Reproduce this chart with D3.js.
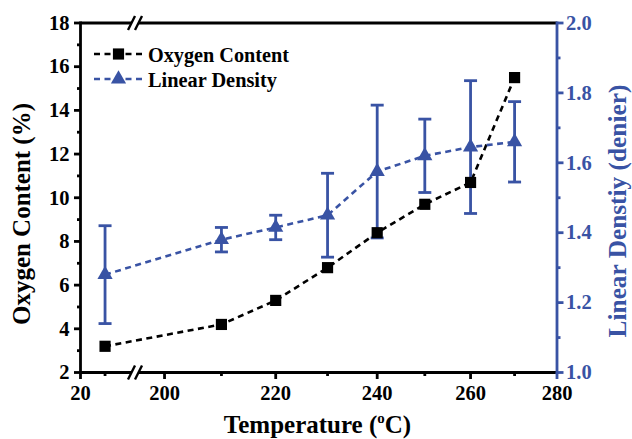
<!DOCTYPE html>
<html><head><meta charset="utf-8">
<script src="https://cdn.jsdelivr.net/npm/d3@7"></script>
<style>html,body{margin:0;padding:0;background:#fff;}svg{display:block;}</style>
</head><body>
<script>
const temps = [30, 210, 220, 230, 240, 250, 260, 270];
const oxygen = [3.2, 4.2, 5.3, 6.8, 8.4, 9.7, 10.7, 15.5];
const density = [1.28, 1.38, 1.415, 1.45, 1.575, 1.62, 1.645, 1.66];
const densityErr = [0.14, 0.035, 0.035, 0.12, 0.19, 0.105, 0.19, 0.115];
const xMajorTicks = [20, 200, 220, 240, 260, 280];
const xMinorTicks = [30, 210, 230, 250, 270];
const yLeftMajor = [2, 4, 6, 8, 10, 12, 14, 16, 18];
const yLeftMinor = [3, 5, 7, 9, 11, 13, 15, 17];
const yRightMajor = [1.0, 1.2, 1.4, 1.6, 1.8, 2.0];
const yRightMinor = [1.1, 1.3, 1.5, 1.7, 1.9];
const seriesNames = ["Oxygen Content", "Linear Density"];

const W = 632, H = 439;
const L = 80.5, R = 557, T = 23, B = 372.5;
const BLUE = "#3953a4";
const FONT = "'Liberation Serif','Times New Roman',serif";

const svg = d3.select("body").append("svg").attr("width", W).attr("height", H);

const xSeg1 = d3.scaleLinear().domain([20, 42]).range([L, 134.5]);
const xSeg2 = d3.scaleLog().domain([195, 280]).range([135, R]);
const x = t => t < 100 ? xSeg1(t) : xSeg2(t);
const yL = d3.scaleLinear().domain([2, 18]).range([B, T]);
const yR = d3.scaleLinear().domain([1.0, 2.0]).range([B, T]);

const g = svg.append("g");
const SW = 2.8;

function fit(sel, target) {
  const base = +sel.attr("font-size");
  const len = sel.node().getComputedTextLength();
  if (len > 0) sel.attr("font-size", base * target / len);
  return sel;
}

// frame lines
g.append("line").attr("x1", L).attr("x2", R).attr("y1", T).attr("y2", T).attr("stroke", "#000").attr("stroke-width", SW);
g.append("line").attr("x1", L).attr("x2", R).attr("y1", B).attr("y2", B).attr("stroke", "#000").attr("stroke-width", SW);
g.append("line").attr("x1", L).attr("x2", L).attr("y1", T - 1.4).attr("y2", B + 1.4).attr("stroke", "#000").attr("stroke-width", SW);
g.append("line").attr("x1", R).attr("x2", R).attr("y1", T - 1.4).attr("y2", B + 1.4).attr("stroke", BLUE).attr("stroke-width", SW);

const TF = 20.5;
// left axis ticks
yLeftMajor.forEach(v => {
  g.append("line").attr("x1", L - 6.5).attr("x2", L).attr("y1", yL(v)).attr("y2", yL(v)).attr("stroke", "#000").attr("stroke-width", SW);
  g.append("text").attr("x", L - 11).attr("y", yL(v)).attr("dy", "0.33em").attr("text-anchor", "end")
    .attr("font-family", FONT).attr("font-weight", "bold").attr("font-size", TF).text(v);
});
yLeftMinor.forEach(v => {
  g.append("line").attr("x1", L - 3.5).attr("x2", L).attr("y1", yL(v)).attr("y2", yL(v)).attr("stroke", "#000").attr("stroke-width", SW);
});
// right axis ticks
yRightMajor.forEach(v => {
  g.append("line").attr("x1", R).attr("x2", R + 6.5).attr("y1", yR(v)).attr("y2", yR(v)).attr("stroke", BLUE).attr("stroke-width", SW);
  g.append("text").attr("x", R + 9).attr("y", yR(v)).attr("dy", "0.33em").attr("text-anchor", "start")
    .attr("fill", BLUE).attr("font-family", FONT).attr("font-weight", "bold").attr("font-size", TF).text(d3.format(".1f")(v));
});
yRightMinor.forEach(v => {
  g.append("line").attr("x1", R).attr("x2", R + 3.5).attr("y1", yR(v)).attr("y2", yR(v)).attr("stroke", BLUE).attr("stroke-width", SW);
});
// bottom axis ticks
xMajorTicks.forEach(v => {
  g.append("line").attr("x1", x(v)).attr("x2", x(v)).attr("y1", B).attr("y2", B + 6.5).attr("stroke", v === 280 ? BLUE : "#000").attr("stroke-width", SW);
  g.append("text").attr("x", x(v)).attr("y", 400).attr("text-anchor", "middle")
    .attr("font-family", FONT).attr("font-weight", "bold").attr("font-size", TF).text(v);
});
xMinorTicks.forEach(v => {
  g.append("line").attr("x1", x(v)).attr("x2", x(v)).attr("y1", B).attr("y2", B + 3.5).attr("stroke", "#000").attr("stroke-width", SW);
});

// axis breaks
[T, B].forEach(yy => {
  const bx = 135;
  g.append("polygon").attr("points", `${bx-6},${yy+7} ${bx-1},${yy-7} ${bx+6},${yy-7} ${bx+1},${yy+7}`).attr("fill", "#fff");
  [-3.5, 3.5].forEach(o => {
    g.append("line").attr("x1", bx + o - 3.5).attr("y1", yy + 7).attr("x2", bx + o + 3.5).attr("y2", yy - 7)
      .attr("stroke", "#000").attr("stroke-width", 2.4);
  });
});

// lines
const idx = d3.range(temps.length);
g.append("path").attr("d", d3.line().x(i => x(temps[i])).y(i => yL(oxygen[i]))(idx))
  .attr("fill", "none").attr("stroke", "#000").attr("stroke-width", 2.6).attr("stroke-dasharray", "6,4.5");
g.append("path").attr("d", d3.line().x(i => x(temps[i])).y(i => yR(density[i]))(idx))
  .attr("fill", "none").attr("stroke", BLUE).attr("stroke-width", 2.6).attr("stroke-dasharray", "6,4.5");

// error bars
idx.forEach(i => {
  const cx = x(temps[i]);
  const y1 = yR(density[i] + densityErr[i]), y2 = yR(density[i] - densityErr[i]);
  g.append("line").attr("x1", cx).attr("x2", cx).attr("y1", y1).attr("y2", y2).attr("stroke", BLUE).attr("stroke-width", 2.8);
  [y1, y2].forEach(yy => g.append("line").attr("x1", cx - 6.5).attr("x2", cx + 6.5).attr("y1", yy).attr("y2", yy).attr("stroke", BLUE).attr("stroke-width", 2.8));
});

const sq = d3.symbol().type(d3.symbolSquare).size(125);
const tri = d3.symbol().type(d3.symbolTriangle).size(100);
idx.forEach(i => {
  g.append("path").attr("d", sq()).attr("transform", `translate(${x(temps[i])},${yL(oxygen[i])})`).attr("fill", "#000");
  g.append("path").attr("d", tri()).attr("transform", `translate(${x(temps[i])},${yR(density[i])})`).attr("fill", BLUE);
});

// legend
const legend = [{label: seriesNames[0], color: "#000", sym: sq, y: 54, len: 141}, {label: seriesNames[1], color: BLUE, sym: tri, y: 79, len: 129}];
legend.forEach(d => {
  g.append("line").attr("x1", 94).attr("x2", 143).attr("y1", d.y).attr("y2", d.y)
    .attr("stroke", d.color).attr("stroke-width", 2.6).attr("stroke-dasharray", "6,4.5");
  g.append("path").attr("d", d.sym()).attr("transform", `translate(118.5,${d.y})`).attr("fill", d.color);
  const t = g.append("text").attr("x", 148).attr("y", d.y + 7.5).attr("font-family", FONT)
    .attr("font-weight", "bold").attr("font-size", 20).attr("fill", "#000").text(d.label);
  fit(t, d.len);
});

// axis titles
const lt = g.append("text").attr("transform", `translate(30,214) rotate(-90)`).attr("text-anchor", "middle")
  .attr("font-family", FONT).attr("font-weight", "bold").attr("font-size", 24).text("Oxygen Content (%)");
fit(lt, 222);
const rt = g.append("text").attr("transform", `translate(626,211) rotate(-90)`).attr("text-anchor", "middle")
  .attr("fill", BLUE)
  .attr("font-family", FONT).attr("font-weight", "bold").attr("font-size", 22).text("Linear Denstiy (denier)");
fit(rt, 253);
const xt = g.append("text").attr("x", 317.5).attr("y", 433).attr("text-anchor", "middle")
  .attr("font-family", FONT).attr("font-weight", "bold").attr("font-size", 25);
xt.append("tspan").text("Temperature (");
xt.append("tspan").attr("font-size", 15).attr("dy", -10).text("o");
xt.append("tspan").attr("dy", 10).text("C)");
</script>
</body></html>
